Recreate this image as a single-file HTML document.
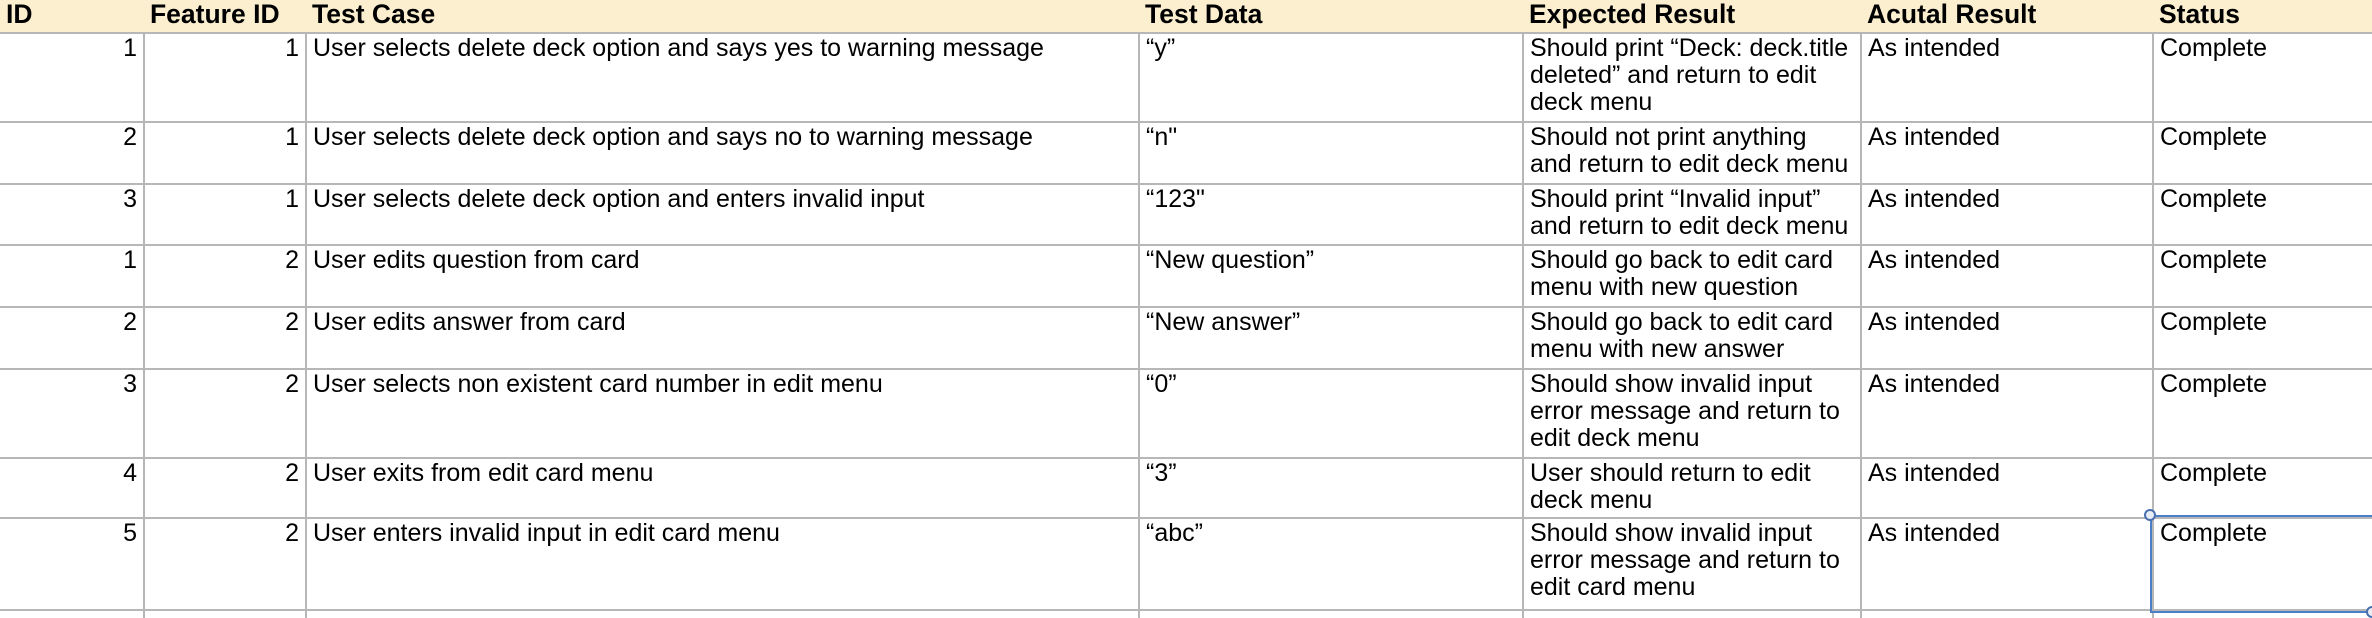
<!DOCTYPE html>
<html><head><meta charset="utf-8"><style>
*{margin:0;padding:0;box-sizing:border-box}
body{width:2372px;height:618px;overflow:hidden;background:#fff;font-family:"Liberation Sans",Arial,sans-serif;position:relative}
.c{position:absolute;font-size:25px;line-height:27px;padding:2px 6px;white-space:nowrap;color:#000;overflow:hidden}
.r{text-align:right}
.h{position:absolute;font-size:26.5px;font-weight:bold;line-height:28px;padding:0 6px;top:0px;white-space:nowrap}
.vl{position:absolute;top:33px;bottom:0;width:2px;background:#b7b7b7}
.hl{position:absolute;left:0;right:0;height:2px;background:#b7b7b7}
</style></head><body>
<div style="position:absolute;left:0;top:0;width:2372px;height:33px;background:#fcefcf"></div>
<div class="h" style="left:0">ID</div>
<div class="h" style="left:144px">Feature ID</div>
<div class="h" style="left:306px">Test Case</div>
<div class="h" style="left:1139px">Test Data</div>
<div class="h" style="left:1523px">Expected Result</div>
<div class="h" style="left:1861px">Acutal Result</div>
<div class="h" style="left:2153px">Status</div>

<div class="vl" style="left:143px"></div>
<div class="vl" style="left:305px"></div>
<div class="vl" style="left:1138px"></div>
<div class="vl" style="left:1522px"></div>
<div class="vl" style="left:1860px"></div>
<div class="vl" style="left:2152px"></div>

<div class="hl" style="top:32px"></div>
<div class="hl" style="top:121px"></div>
<div class="hl" style="top:183px"></div>
<div class="hl" style="top:244px"></div>
<div class="hl" style="top:306px"></div>
<div class="hl" style="top:368px"></div>
<div class="hl" style="top:457px"></div>
<div class="hl" style="top:517px"></div>
<div class="hl" style="top:609px"></div>

<div class="c r" style="left:0;top:33px;width:143px">1</div>
<div class="c r" style="left:145px;top:33px;width:160px">1</div>
<div class="c" style="left:307px;top:33px">User selects delete deck option and says yes to warning message</div>
<div class="c" style="left:1140px;top:33px">“y”</div>
<div class="c" style="left:1524px;top:33px;width:336px">Should print “Deck: deck.title<br>deleted” and return to edit<br>deck menu</div>
<div class="c" style="left:1862px;top:33px">As intended</div>
<div class="c" style="left:2154px;top:33px">Complete</div>

<div class="c r" style="left:0;top:122px;width:143px">2</div>
<div class="c r" style="left:145px;top:122px;width:160px">1</div>
<div class="c" style="left:307px;top:122px">User selects delete deck option and says no to warning message</div>
<div class="c" style="left:1140px;top:122px">“n"</div>
<div class="c" style="left:1524px;top:122px;width:336px">Should not print anything<br>and return to edit deck menu</div>
<div class="c" style="left:1862px;top:122px">As intended</div>
<div class="c" style="left:2154px;top:122px">Complete</div>

<div class="c r" style="left:0;top:184px;width:143px">3</div>
<div class="c r" style="left:145px;top:184px;width:160px">1</div>
<div class="c" style="left:307px;top:184px">User selects delete deck option and enters invalid input</div>
<div class="c" style="left:1140px;top:184px">“123"</div>
<div class="c" style="left:1524px;top:184px;width:336px">Should print “Invalid input”<br>and return to edit deck menu</div>
<div class="c" style="left:1862px;top:184px">As intended</div>
<div class="c" style="left:2154px;top:184px">Complete</div>

<div class="c r" style="left:0;top:245px;width:143px">1</div>
<div class="c r" style="left:145px;top:245px;width:160px">2</div>
<div class="c" style="left:307px;top:245px">User edits question from card</div>
<div class="c" style="left:1140px;top:245px">“New question”</div>
<div class="c" style="left:1524px;top:245px;width:336px">Should go back to edit card<br>menu with new question</div>
<div class="c" style="left:1862px;top:245px">As intended</div>
<div class="c" style="left:2154px;top:245px">Complete</div>

<div class="c r" style="left:0;top:307px;width:143px">2</div>
<div class="c r" style="left:145px;top:307px;width:160px">2</div>
<div class="c" style="left:307px;top:307px">User edits answer from card</div>
<div class="c" style="left:1140px;top:307px">“New answer”</div>
<div class="c" style="left:1524px;top:307px;width:336px">Should go back to edit card<br>menu with new answer</div>
<div class="c" style="left:1862px;top:307px">As intended</div>
<div class="c" style="left:2154px;top:307px">Complete</div>

<div class="c r" style="left:0;top:369px;width:143px">3</div>
<div class="c r" style="left:145px;top:369px;width:160px">2</div>
<div class="c" style="left:307px;top:369px">User selects non existent card number in edit menu</div>
<div class="c" style="left:1140px;top:369px">“0”</div>
<div class="c" style="left:1524px;top:369px;width:336px">Should show invalid input<br>error message and return to<br>edit deck menu</div>
<div class="c" style="left:1862px;top:369px">As intended</div>
<div class="c" style="left:2154px;top:369px">Complete</div>

<div class="c r" style="left:0;top:458px;width:143px">4</div>
<div class="c r" style="left:145px;top:458px;width:160px">2</div>
<div class="c" style="left:307px;top:458px">User exits from edit card menu</div>
<div class="c" style="left:1140px;top:458px">“3”</div>
<div class="c" style="left:1524px;top:458px;width:336px">User should return to edit<br>deck menu</div>
<div class="c" style="left:1862px;top:458px">As intended</div>
<div class="c" style="left:2154px;top:458px">Complete</div>

<div class="c r" style="left:0;top:518px;width:143px">5</div>
<div class="c r" style="left:145px;top:518px;width:160px">2</div>
<div class="c" style="left:307px;top:518px">User enters invalid input in edit card menu</div>
<div class="c" style="left:1140px;top:518px">“abc”</div>
<div class="c" style="left:1524px;top:518px;width:336px">Should show invalid input<br>error message and return to<br>edit card menu</div>
<div class="c" style="left:1862px;top:518px">As intended</div>
<div class="c" style="left:2154px;top:518px">Complete</div>

<div style="position:absolute;left:2150px;top:515px;width:224px;height:98px;border:2px solid #4a7ec5"></div>
<div style="position:absolute;left:2144px;top:509px;width:12px;height:12px;border-radius:50%;background:#e8ecf4;border:2px solid #4a6fb0"></div>
<div style="position:absolute;left:2366px;top:606px;width:12px;height:12px;border-radius:50%;background:#e8ecf4;border:2px solid #4a6fb0"></div>
</body></html>
